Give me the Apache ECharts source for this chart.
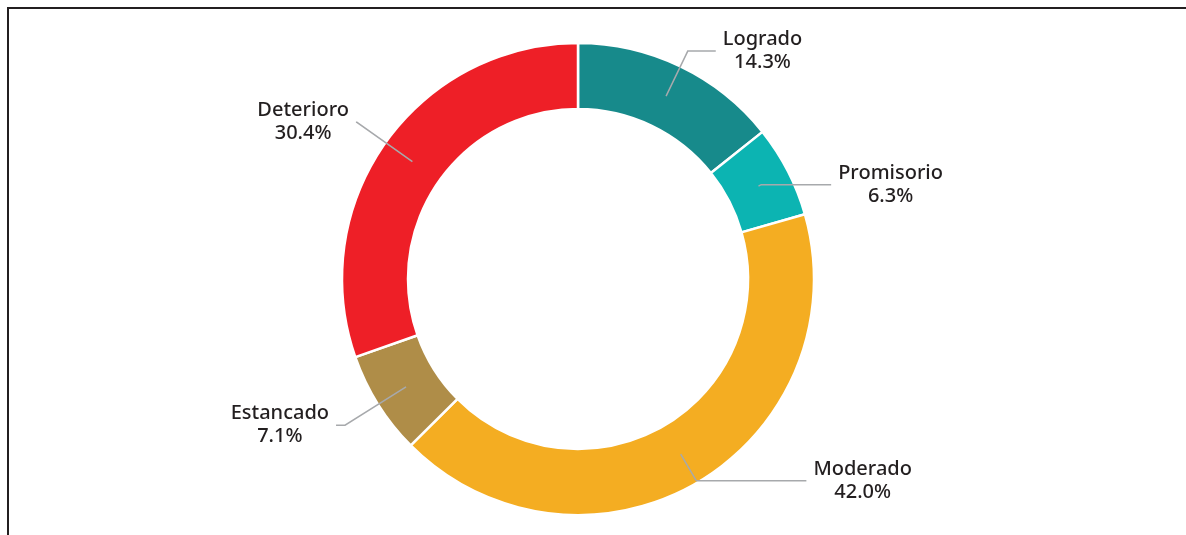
<!DOCTYPE html>
<html>
<head>
<meta charset="utf-8">
<style>
  html, body { margin: 0; padding: 0; background: #fff; }
  #chart { width: 1186px; height: 535px; }
</style>
<script src="https://cdn.jsdelivr.net/npm/echarts@6/dist/echarts.min.js"></script>
</head>
<body>
<div id="chart"></div>
<script>
var categories = ['Logrado', 'Promisorio', 'Moderado', 'Estancado', 'Deterioro'];
var shares = [14.3, 6.3, 42.0, 7.1, 30.4];
var colors = ['#178a8b', '#0cb4b2', '#f4ad22', '#af8d48', '#ee1f27'];
// label line lengths per slice (radial part, horizontal part)
var lineLen = [50, 3, 31, 72, 68];
var lineLen2 = [28, 70, 110, 9, 1];

var chart = echarts.init(document.getElementById('chart'));

var ringData = categories.map(function (name, i) {
    return { name: name, value: shares[i], itemStyle: { color: colors[i] } };
});
var labelData = categories.map(function (name, i) {
    return {
        name: name,
        value: shares[i],
        labelLine: { length: lineLen[i], length2: lineLen2[i] }
    };
});

chart.setOption({
    animation: false,
    graphic: [
        { type: 'line', shape: { x1: 7, y1: 8, x2: 1186, y2: 8 }, style: { stroke: '#231f20', lineWidth: 2 } },
        { type: 'line', shape: { x1: 8, y1: 8, x2: 8, y2: 535 }, style: { stroke: '#231f20', lineWidth: 2 } }
    ],
    series: [{
        type: 'pie',
        z: 2,
        center: [578, 279],
        radius: [170, 236],
        startAngle: 90,
        clockwise: true,
        silent: true,
        label: { show: false },
        labelLine: { show: false },
        itemStyle: { borderColor: '#fff', borderWidth: 2.5 },
        data: ringData
    }, {
        type: 'pie',
        z: 5,
        center: [578, 279],
        radius: [0, 203],
        startAngle: 90,
        clockwise: true,
        silent: true,
        avoidLabelOverlap: false,
        itemStyle: { color: 'rgba(0,0,0,0)' },
        label: {
            show: true,
            position: 'outside',
            distanceToLabelLine: 7,
            formatter: function (p) {
                return '{a|' + p.name + '}\n{a|' + p.value.toFixed(1) + '%}';
            },
            rich: {
                a: {
                    fontFamily: 'Noto Sans',
                    fontSize: 20,
                    fontWeight: 500,
                    color: '#231f20',
                    lineHeight: 23,
                    align: 'center'
                }
            }
        },
        labelLine: {
            show: true,
            lineStyle: { color: '#a7a9ac', width: 1.5 }
        },
        data: labelData
    }]
});
</script>
</body>
</html>
